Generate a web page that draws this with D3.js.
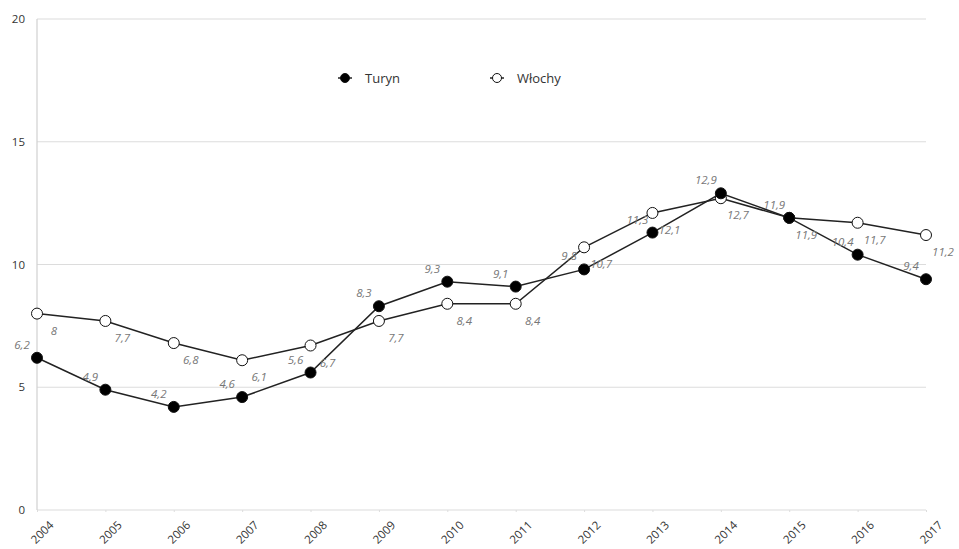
<!DOCTYPE html>
<html><head><meta charset="utf-8">
<script src="https://cdn.jsdelivr.net/npm/d3@7"></script>
<style>
body{margin:0;background:#fff;}
svg{font-family:"Open Sans",sans-serif;}
</style></head>
<body><svg id="c" width="959" height="549"></svg>
<script>
const years = ["2004","2005","2006","2007","2008","2009","2010","2011","2012","2013","2014","2015","2016","2017"];
const turyn = [6.2,4.9,4.2,4.6,5.6,8.3,9.3,9.1,9.8,11.3,12.9,11.9,10.4,9.4];
const wlochy = [8,7.7,6.8,6.1,6.7,7.7,8.4,8.4,10.7,12.1,12.7,11.9,11.7,11.2];
const yTicks = [0,5,10,15,20];
const seriesNames = ["Turyn","Włochy"];

const svg = d3.select("#c");
const x = d3.scalePoint().domain(years).range([37,926]);
const y = d3.scaleLinear().domain([0,20]).range([510,19]);

// grid
svg.append("g").selectAll("line").data(yTicks).join("line")
  .attr("x1",37).attr("x2",926).attr("y1",d=>y(d)).attr("y2",d=>y(d))
  .attr("stroke","#dcdcdc").attr("stroke-width",1.2);
svg.append("line").attr("x1",37).attr("x2",37).attr("y1",y(20)).attr("y2",y(0))
  .attr("stroke","#d0d0d0").attr("stroke-width",1.2);

// y axis
const ya = svg.append("g").attr("transform","translate(37,0)")
  .call(d3.axisLeft(y).tickValues(yTicks).tickSize(0).tickPadding(12).tickFormat(d3.format("d")));
ya.select(".domain").remove();
ya.selectAll("text").attr("font-size",11.5).attr("fill","#333").attr("font-family","Open Sans");

// x axis
const xa = svg.append("g").attr("transform","translate(0,510)")
  .call(d3.axisBottom(x).tickSize(2).tickPadding(6));
xa.select(".domain").remove();
xa.selectAll("line").attr("stroke","#ddd");
xa.selectAll("text").attr("font-size",11.5).attr("fill","#333").attr("font-family","Open Sans")
  .attr("text-anchor","end").attr("x",0).attr("y",0).attr("dy","0.35em")
  .attr("transform","translate(14,13) rotate(-45)");

const line = d3.line().x((d,i)=>x(years[i])).y(d=>y(d));
const fmt = v => String(v).replace(".",",");

function drawSeries(vals, fill){
  svg.append("path").datum(vals).attr("d",line).attr("fill","none")
    .attr("stroke","#222").attr("stroke-width",1.5);
  svg.append("g").selectAll("circle").data(vals).join("circle")
    .attr("cx",(d,i)=>x(years[i])).attr("cy",d=>y(d)).attr("r",5.5)
    .attr("fill",fill).attr("stroke","#111").attr("stroke-width",1);
}
drawSeries(wlochy,"#fff");
drawSeries(turyn,"#000");

// labels
svg.append("g").selectAll("text").data(turyn).join("text")
  .attr("x",(d,i)=>x(years[i])-15).attr("y",d=>y(d)-9)
  .attr("text-anchor","middle").attr("font-size",11.5).attr("font-style","italic")
  .attr("fill","#777").text(fmt);
svg.append("g").selectAll("text").data(wlochy).join("text")
  .attr("x",(d,i)=>x(years[i])+17).attr("y",d=>y(d)+21)
  .attr("text-anchor","middle").attr("font-size",11.5).attr("font-style","italic")
  .attr("fill","#777").text(fmt);

// legend
const lg = svg.append("g");
const lx = [338,490];
seriesNames.forEach((n,i)=>{
  const g = lg.append("g").attr("transform",`translate(${lx[i]},78)`);
  g.append("line").attr("x1",0).attr("x2",14).attr("stroke","#222").attr("stroke-width",1.5);
  g.append("circle").attr("cx",7).attr("cy",0).attr("r",4.5)
    .attr("fill",i===0?"#000":"#fff").attr("stroke","#111").attr("stroke-width",1);
  g.append("text").attr("x",27).attr("y",4.5).attr("font-size",13).attr("fill","#333").text(n);
});
</script></body></html>
